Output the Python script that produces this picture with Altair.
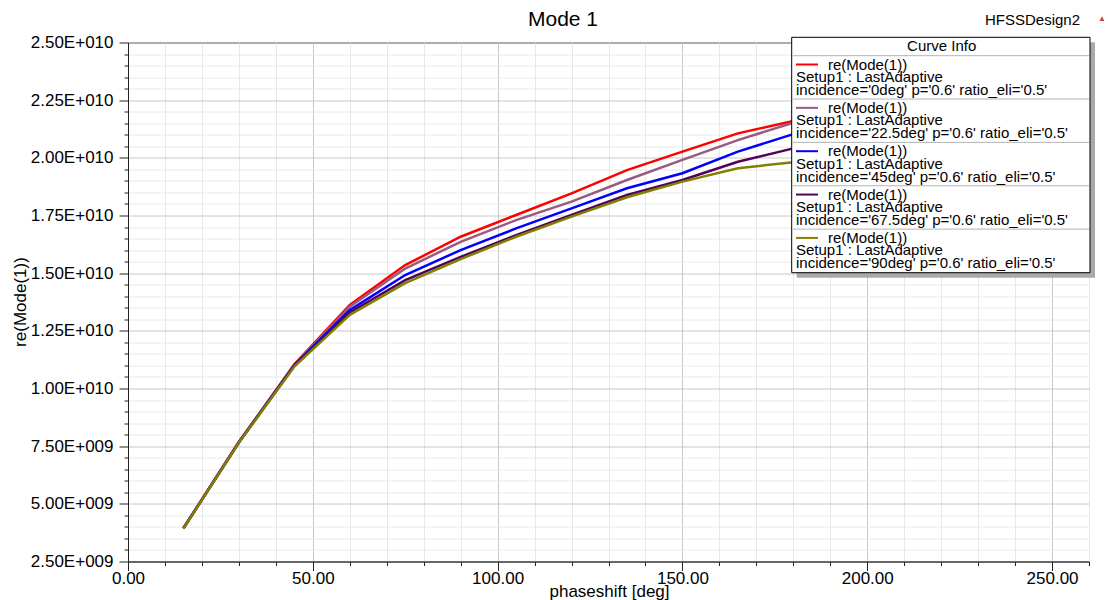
import altair as alt
import pandas as pd

# ---------------- data ----------------
phaseshift = [15, 30, 45, 60, 75, 90, 105, 120, 135, 150, 165, 180]
re_0deg = [3.94, 7.68, 11.05, 13.62, 15.35, 16.58, 17.52, 18.46, 19.47, 20.27, 21.06, 21.60]
re_22_5deg = [3.94, 7.68, 11.03, 13.55, 15.20, 16.36, 17.30, 18.10, 19.04, 19.91, 20.77, 21.52]
re_45deg = [3.94, 7.67, 11.00, 13.40, 14.92, 16.00, 16.94, 17.81, 18.68, 19.33, 20.27, 21.03]
re_67_5deg = [3.94, 7.66, 10.97, 13.30, 14.70, 15.71, 16.65, 17.52, 18.39, 19.04, 19.83, 20.41]
re_90deg = [3.93, 7.66, 10.95, 13.19, 14.57, 15.61, 16.58, 17.45, 18.29, 18.97, 19.55, 19.81]
SCALE = 1e9  # values above are in units of 1E+009

incidences = ["0deg", "22.5deg", "45deg", "67.5deg", "90deg"]
series_values = [re_0deg, re_22_5deg, re_45deg, re_67_5deg, re_90deg]
colors = ["#ff0000", "#985a80", "#0000ff", "#520058", "#808000"]

x_tick_values = [0, 50, 100, 150, 200, 250]
x_tick_labels = ["0.00", "50.00", "100.00", "150.00", "200.00", "250.00"]
y_tick_values = [2.5e9, 5.0e9, 7.5e9, 1.0e10, 1.25e10, 1.5e10, 1.75e10, 2.0e10, 2.25e10, 2.5e10]
y_tick_labels = ["2.50E+009", "5.00E+009", "7.50E+009", "1.00E+010", "1.25E+010",
                 "1.50E+010", "1.75E+010", "2.00E+010", "2.25E+010", "2.50E+010"]

# ---------------- layout ----------------
OX, OY = 128, 42.5      # plot origin in the page
W, H = 961, 519         # plot area
FONT = "Liberation Sans"

series_names = [f"incidence='{inc}' p='0.6' ratio_eli='0.5'" for inc in incidences]

rows = []
for name, vals in zip(series_names, series_values):
    for xv, yv in zip(phaseshift, vals):
        rows.append({"phaseshift": xv, "value": yv * SCALE, "series": name})
df = pd.DataFrame(rows)


def label_expr(values, labels):
    parts = [f"datum.value === {repr(float(v))} ? '{l}'" for v, l in zip(values, labels)]
    return " : ".join(parts) + " : ''"


x_minor = list(range(0, 261, 10))
y_minor = [2.5e9 + 5e8 * k for k in range(46)]

x_axis = alt.Axis(
    values=x_minor,
    labelExpr=label_expr(x_tick_values, x_tick_labels),
    labelFlush=False, labelOverlap=False, labelBound=False,
    labelFont=FONT, labelFontSize=17, labelColor="black", labelPadding=0,
    grid=True,
    gridColor={"condition": {"test": "datum.value % 50 === 0", "value": "#c8c8c8"}, "value": "#e8e8e8"},
    tickSize={"condition": {"test": "datum.value % 50 === 0", "value": 9}, "value": 4},
    tickColor="#222", domainColor="#222",
    title="phaseshift [deg]", titleFont=FONT, titleFontSize=17, titleFontWeight="normal",
    titleColor="black", titleX=481, titleY=30, titleBaseline="middle",
)
y_axis = alt.Axis(
    values=y_minor,
    labelExpr=label_expr(y_tick_values, y_tick_labels),
    labelOverlap=False, labelBound=False, labelFlush=False,
    labelFont=FONT, labelFontSize=17, labelColor="black", labelPadding=6,
    grid=True,
    gridColor={"condition": {"test": "datum.value % 2500000000 === 0", "value": "#c8c8c8"}, "value": "#e8e8e8"},
    tickSize={"condition": {"test": "datum.value % 2500000000 === 0", "value": 9}, "value": 4},
    tickColor="#222", domainColor="#222",
    title="re(Mode(1))", titleFont=FONT, titleFontSize=17, titleFontWeight="normal",
    titleColor="black", titleX=-108, titleY=259, titleBaseline="middle", titleAlign="center",
)

lines = alt.Chart(df).mark_line(strokeWidth=2.5).encode(
    x=alt.X("phaseshift:Q", scale=alt.Scale(domain=[0, 260], nice=False, zero=False), axis=x_axis),
    y=alt.Y("value:Q", scale=alt.Scale(domain=[2.5e9, 2.5e10], nice=False, zero=False), axis=y_axis),
    color=alt.Color("series:N", scale=alt.Scale(domain=series_names, range=colors), legend=None),
)

# ---------------- "Curve Info" legend box and header texts ----------------
def PX(f):
    return alt.X(f"{f}:Q", scale=None, axis=None)


def PY(f):
    return alt.Y(f"{f}:Q", scale=None, axis=None)


bx0, by0, bx1, by1 = 791.7 - OX, 37.3 - OY, 1090 - OX, 272.7 - OY
shadow = alt.Chart(pd.DataFrame([{"x": bx0 + 5, "x2": bx1 + 5, "y": by0 + 5, "y2": by1 + 5}])).mark_rect(
    color="#a9a9a9").encode(x=PX("x"), x2="x2:Q", y=PY("y"), y2="y2:Q")
box = alt.Chart(pd.DataFrame([{"x": bx0, "x2": bx1, "y": by0, "y2": by1}])).mark_rect(
    fill="white", stroke="black", strokeWidth=1).encode(x=PX("x"), x2="x2:Q", y=PY("y"), y2="y2:Q")

ROW = 43.35
div_top = 55.7 - OY
dividers = alt.Chart(pd.DataFrame(
    [{"x": bx0 + 1, "x2": bx1 - 1, "y": div_top + k * ROW} for k in range(5)]
)).mark_rule(color="#b4b4b4", strokeWidth=1).encode(x=PX("x"), x2="x2:Q", y=PY("y"))

sym_rows, text_rows = [], []
for i, (name, col) in enumerate(zip(series_names, colors)):
    top = div_top + i * ROW
    sym_rows.append({"x": 796 - OX, "x2": 818 - OX, "y": top + 8.8, "color": col})
    text_rows.append({"x": 828 - OX, "y": top + 8.8, "text": "re(Mode(1))"})
    text_rows.append({"x": 796 - OX, "y": top + 21.3, "text": "Setup1 : LastAdaptive"})
    text_rows.append({"x": 796 - OX, "y": top + 34.3, "text": name})

symbols = alt.Chart(pd.DataFrame(sym_rows)).mark_rule(strokeWidth=2).encode(
    x=PX("x"), x2="x2:Q", y=PY("y"), color=alt.Color("color:N", scale=None))
texts = alt.Chart(pd.DataFrame(text_rows)).mark_text(
    align="left", baseline="middle", font=FONT, fontSize=15, color="black").encode(
    x=PX("x"), y=PY("y"), text="text:N")
header = alt.Chart(pd.DataFrame([{"x": 941.7 - OX, "y": 46 - OY, "text": "Curve Info"}])).mark_text(
    align="center", baseline="middle", font=FONT, fontSize=15, color="black").encode(
    x=PX("x"), y=PY("y"), text="text:N")
design = alt.Chart(pd.DataFrame([{"x": 985 - OX, "y": 20 - OY, "text": "HFSSDesign2"}])).mark_text(
    align="left", baseline="middle", font=FONT, fontSize=15, color="black").encode(
    x=PX("x"), y=PY("y"), text="text:N")
logo = alt.Chart(pd.DataFrame([{"x": 1102 - OX, "y": 19 - OY, "text": "▲"}])).mark_text(
    align="center", baseline="middle", fontSize=8, color="#d04040").encode(
    x=PX("x"), y=PY("y"), text="text:N")
title = alt.Chart(pd.DataFrame([{"x": 563 - OX, "y": 20 - OY, "text": "Mode 1"}])).mark_text(
    align="center", baseline="middle", font=FONT, fontSize=21, color="black").encode(
    x=PX("x"), y=PY("y"), text="text:N")

chart = alt.layer(lines, shadow, box, dividers, symbols, texts, header, design, logo, title).properties(
    width=W, height=H,
    autosize="none",
    padding={"left": OX, "top": OY, "right": 1108 - OX - W, "bottom": 600 - OY - H},
    background="white",
).configure_view(stroke="#222", strokeWidth=1)

chart.save("out.html", embed_options={"renderer": "svg", "actions": False})
